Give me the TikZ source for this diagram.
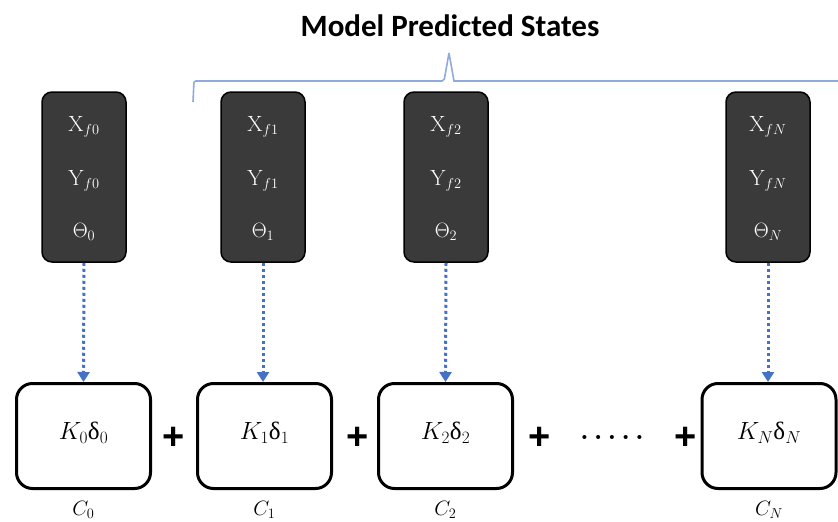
\documentclass[tikz,border=0pt]{standalone}
\usepackage{fontspec}
\usetikzlibrary{arrows.meta}
\newfontfamily\titlefont{Carlito}
\newfontfamily\grk{Liberation Serif}
\newfontfamily\plusfont{Liberation Sans}
\definecolor{darkbox}{HTML}{3A3A3A}
\definecolor{arrowblue}{HTML}{4472C4}
\definecolor{braceblue}{HTML}{8FAADC}
\tikzset{
  statebox/.style={draw=black, line width=1.5pt, fill=darkbox, rounded corners=10pt, minimum width=84pt, minimum height=170pt, inner sep=0pt},
  costbox/.style={draw=black, line width=3pt, fill=white, rounded corners=16pt, minimum width=134pt, minimum height=105pt, inner sep=0pt},
  statetext/.style={text=white, font=\fontsize{22}{24}\selectfont, inner sep=0pt},
  costtext/.style={font=\fontsize{25}{28}\selectfont, inner sep=0pt},
  clabel/.style={font=\fontsize{20}{22}\selectfont, inner sep=0pt},
  plus/.style={font=\plusfont\bfseries\fontsize{38}{38}\selectfont, inner sep=0pt},
  dotarrow/.style={draw=arrowblue, line width=3pt, dash pattern=on 3pt off 3pt, -{Triangle[width=12pt,length=10pt,fill=arrowblue]}},
}
\begin{document}
\begin{tikzpicture}[x=1pt, y=-1pt]
\useasboundingbox (0,0) rectangle (838,522);
% title
\node[font=\titlefont\bfseries\fontsize{31}{33}\selectfont, inner sep=0pt] (title) at (450,26) {Model Predicted States};
% brace
\draw[braceblue, line width=1.6pt, rounded corners=2pt] (193,102) -- (194,81) -- (444,81) -- (449,53);
\draw[braceblue, line width=1.6pt] (449,53) -- (454,81) -- (838,81);
% state boxes
\foreach \n/\x/\s in {0/84/0, 1/263/1, 2/446/2, N/768/N}{
  \node[statebox] (s\n) at (\x,177) {};
  \node[statetext] (x\n) at (\x,127) {$\mathrm{X}_{f\s}$};
  \node[statetext] (y\n) at (\x,181) {$\mathrm{Y}_{f\s}$};
  \node[statetext] (t\n) at (\x,232) {$\Theta_{\s}$};
}
% cost boxes
\node[costbox] (c0) at (83.5,436) {};
\node[costbox] (c1) at (264.5,436) {};
\node[costbox] (c2) at (445.5,436) {};
\node[costbox] (cN) at (769,436) {};
\node[costtext] at (83.5,433) {$K_0${\grk δ}$_0$};
\node[costtext] at (264.5,433) {$K_1${\grk δ}$_1$};
\node[costtext] at (445.5,433) {$K_2${\grk δ}$_2$};
\node[costtext] at (769,433) {$K_N${\grk δ}$_N$};
% labels
\node[clabel] (l0) at (83.5,510) {$C_0$};
\node[clabel] (l1) at (264.5,510) {$C_1$};
\node[clabel] (l2) at (445.5,510) {$C_2$};
\node[clabel] (lN) at (769,510) {$C_N$};
% plus signs
\node[plus] (p1) at (174,438) {+};
\node[plus] (p2) at (358,438) {+};
\node[plus] (p3) at (540,438) {+};
\node[plus] (p4) at (686,438) {+};
\node[font=\bfseries\fontsize{28}{28}\selectfont, inner sep=0pt] (dots) at (612,437) {.\hspace{5pt}.\hspace{5pt}.\hspace{5pt}.\hspace{5pt}.};
% arrows
\draw[dotarrow] (s0.south) -- (c0.north);
\draw[dotarrow] (s1.south) -- ([xshift=-1.5pt]c1.north);
\draw[dotarrow] (s2.south) -- (c2.north);
\draw[dotarrow] (sN.south) -- ([xshift=-1pt]cN.north);
\end{tikzpicture}
\end{document}
